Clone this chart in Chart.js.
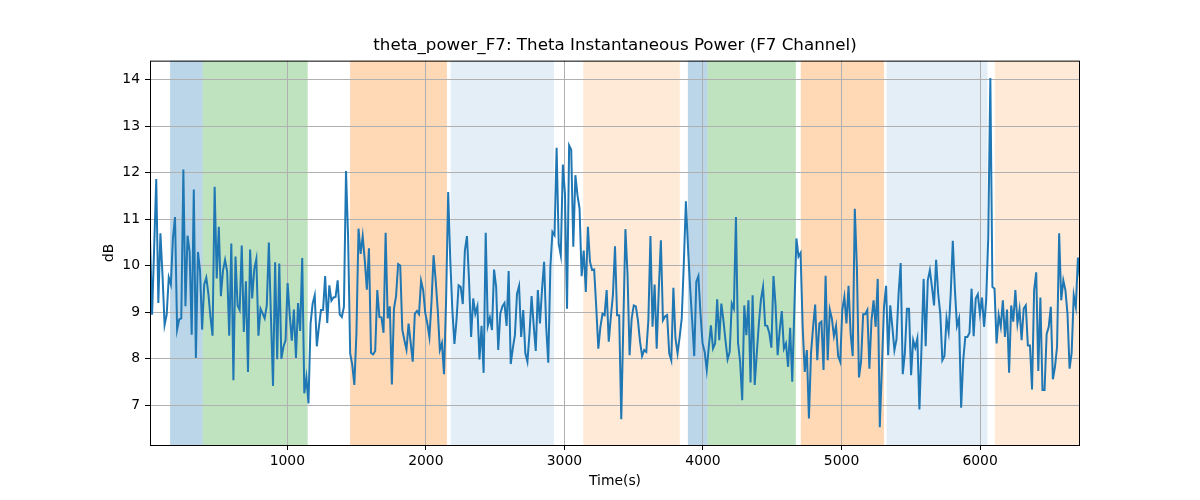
<!DOCTYPE html>
<html>
<head>
<meta charset="utf-8">
<script src="https://cdn.jsdelivr.net/npm/chart.js@4.4.0/dist/chart.umd.min.js"></script>
<style>
  html, body { margin: 0; padding: 0; background: #fff; }
  #wrap { width: 1200px; height: 500px; }
</style>
</head>
<body>
<div id="wrap"><canvas id="thetaChart" width="1200" height="500"></canvas></div>
<script>
// sampling range of the recording (seconds)
const T_START = 9;
const T_END = 6721;

const thetaPower = [
  10.6, 8.95, 10.4, 11.87, 9.2, 10.7, 9.8, 8.73, 8.95, 9.75, 9.6, 10.6, 11.05, 8.63, 8.85, 8.87,
  12.07, 9.13, 10.65, 10.3, 8.52, 11.64, 8.02, 10.3, 9.9, 8.63, 9.6, 9.75, 9.4, 8.9, 8.5, 11.7,
  9.73, 10.84, 9.35, 9.9, 10.13, 9.88, 8.5, 10.48, 7.54, 10.2, 9.15, 9.05, 10.44, 8.58, 9.67, 7.72,
  10.35, 9.3, 9.93, 10.15, 8.5, 9.08, 8.98, 8.87, 9.15, 10.5, 8.9, 7.42, 10.08, 7.99, 10.05, 8.0,
  8.26, 8.4, 9.63, 8.95, 8.39, 9.06, 8.02, 9.2, 8.6, 10.17, 7.26, 7.6,
  7.04, 8.76, 9.19, 9.37, 8.27, 8.69, 9.05, 9.05, 9.78, 8.77, 9.58, 9.25, 9.32, 9.33, 9.69, 8.95,
  8.9, 9.12, 12.04, 10.62, 8.12, 7.87, 7.44, 8.55, 10.8, 10.26, 10.64, 10.12, 9.49, 10.38, 8.13, 8.1,
  8.17, 9.48, 8.9, 8.89, 8.56, 10.71, 8.87, 9.13, 7.45, 9.08, 9.35, 10.04, 10.01, 8.63, 8.4, 8.2,
  8.76, 8.35, 7.94, 8.97, 9.03, 8.96, 9.68, 9.48, 8.99, 8.76, 8.47, 9.22, 10.23, 9.69, 9.05, 8.19,
  8.34, 7.67, 9.26, 11.59, 10.12, 9.05, 8.32, 8.84, 9.58, 9.55, 9.18,
  10.33, 10.64, 9.69, 8.47, 9.3, 8.97, 9.13, 7.99, 8.71, 7.7, 10.71, 8.71, 8.89, 8.62, 9.92, 9.55,
  8.19, 8.97, 9.13, 9.2, 8.71, 9.89, 7.89, 8.23, 8.51, 9.4, 9.57, 8.47, 9.05, 8.12, 7.94, 8.55,
  9.35, 8.72, 8.17, 9.48, 8.76, 9.49, 10.09, 8.69, 7.92, 9.97, 10.73, 10.66, 12.54, 10.48, 10.23, 12.18,
  11.55, 9.08, 12.59, 12.5, 10.41, 11.95, 11.52, 11.23, 9.78, 10.33, 9.44, 10.84, 10.09, 9.91, 9.92, 9.12,
  8.22, 8.69, 8.97, 8.94, 9.48, 8.37, 8.9, 9.37, 10.42, 8.94, 8.94,
  6.7, 8.76, 10.79, 9.83, 8.08, 8.87, 9.15, 9.13, 8.83, 8.37, 8.06, 8.19, 8.15, 8.83, 10.64, 8.69,
  9.6, 8.22, 9.49, 10.55, 8.83, 8.91, 8.94, 8.12, 7.97, 9.53, 8.44, 8.12, 8.47, 8.87, 10.05, 11.39,
  10.41, 9.55, 8.83, 8.06, 9.66, 9.78, 8.97, 8.33, 8.15, 7.76, 8.27, 8.72, 8.22, 8.33, 9.28, 8.4,
  9.19, 8.83, 8.39, 7.99, 8.15, 9.19, 9.08, 11.05, 8.35, 7.94, 7.11, 9.15, 8.51, 9.26, 7.49, 9.37,
  7.44, 8.12, 8.76, 9.28, 9.55, 8.72, 8.71, 8.56, 8.24, 9.78,
  9.15, 8.08, 8.62, 9.03, 8.22, 8.33, 7.83, 8.67, 7.51, 9.05, 10.59, 10.2, 10.28, 8.69, 7.72, 8.19,
  6.72, 8.12, 8.69, 9.17, 7.97, 8.76, 8.8, 7.76, 9.79, 7.97, 9.06, 8.87, 8.49, 8.71, 8.06, 7.94,
  9.05, 9.33, 8.76, 9.57, 8.55, 8.06, 11.23, 9.97, 7.6, 7.94, 8.96, 8.96, 9.05, 7.79, 8.83, 9.26,
  8.69, 9.72, 6.53, 7.83, 9.12, 9.57, 8.08, 9.15, 8.69, 8.19, 8.42, 9.4, 10.06, 7.67, 8.12, 9.08,
  9.08, 7.65, 8.4, 8.24, 8.44, 6.91, 8.26, 9.72, 8.27, 9.69, 9.91,
  9.55, 9.15, 10.13, 9.4, 8.97, 7.97, 8.06, 8.87, 8.58, 9.4, 10.54, 9.49, 8.71, 8.87, 6.95, 7.97,
  8.47, 8.47, 8.56, 9.51, 8.49, 9.3, 9.39, 8.97, 9.32, 8.69, 9.26, 10.6, 14.04, 9.55, 9.51, 8.33,
  8.94, 8.69, 9.26, 8.47, 9.06, 7.7, 9.15, 8.8, 9.48, 8.76, 9.06, 8.4, 9.08, 9.15, 8.29, 8.29,
  7.34, 9.48, 9.86, 7.74, 9.32, 7.33, 7.33, 8.53, 8.69, 9.12, 7.56, 7.83, 8.26, 10.7, 9.26, 9.69,
  9.48, 8.97, 7.79, 8.13, 9.37, 9.12, 10.18, 9.72
];

// shaded epochs (seconds)
const spanStarts = [154, 390, 1453, 2179, 3136, 3891, 4033, 4706, 5325, 6106];
const spanEnds   = [390, 1147, 2152, 2924, 3833, 4033, 4670, 5307, 6053, 6721];
const spanKinds  = ['blue', 'green', 'orange', 'paleBlue', 'paleOrange',
                    'blue', 'green', 'orange', 'paleBlue', 'paleOrange'];

const xTicks = [1000, 2000, 3000, 4000, 5000, 6000];
const yTicks = [7, 8, 9, 10, 11, 12, 13, 14];

const spanColors = {
  blue: 'rgba(31, 119, 180, 0.3)',
  green: 'rgba(44, 160, 44, 0.3)',
  orange: 'rgba(255, 127, 14, 0.3)',
  paleBlue: 'rgba(31, 119, 180, 0.12)',
  paleOrange: 'rgba(255, 127, 14, 0.16)'
};

const step = (T_END - T_START) / (thetaPower.length - 1);
const points = thetaPower.map((v, i) => ({ x: T_START + i * step, y: v }));

const FONT = "'DejaVu Sans', sans-serif";

// axvspan-like background bands, drawn under the grid
const spanPlugin = {
  id: 'spans',
  beforeDraw(chart) {
    const { ctx, chartArea, scales } = chart;
    ctx.save();
    for (let i = 0; i < spanStarts.length; i++) {
      const x1 = scales.x.getPixelForValue(spanStarts[i]);
      const x2 = scales.x.getPixelForValue(spanEnds[i]);
      ctx.fillStyle = spanColors[spanKinds[i]];
      ctx.fillRect(x1, chartArea.top, x2 - x1, chartArea.bottom - chartArea.top);
    }
    ctx.restore();
  }
};

// black frame on all four sides
const framePlugin = {
  id: 'frame',
  afterDraw(chart) {
    const { ctx, chartArea } = chart;
    ctx.save();
    ctx.strokeStyle = '#000';
    ctx.lineWidth = 1;
    ctx.strokeRect(chartArea.left + 0.5, chartArea.top + 0.5,
      chartArea.right - chartArea.left - 1, chartArea.bottom - chartArea.top);
    ctx.restore();
  }
};

new Chart(document.getElementById('thetaChart'), {
  type: 'line',
  data: {
    datasets: [{
      label: 'theta_power_F7',
      data: points,
      borderColor: '#1f77b4',
      borderWidth: 2,
      pointRadius: 0,
      tension: 0,
      fill: false
    }]
  },
  options: {
    responsive: false,
    animation: false,
    layout: { padding: { left: 0, right: 120, top: 0, bottom: 0 } },
    plugins: {
      legend: { display: false },
      tooltip: { enabled: false },
      title: {
        display: true,
        fullSize: false,
        text: 'theta_power_F7: Theta Instantaneous Power (F7 Channel)',
        color: '#000',
        font: { family: FONT, size: 16.7, weight: 'normal' },
        padding: { top: 36, bottom: 4.6 }
      }
    },
    scales: {
      x: {
        type: 'linear',
        min: T_START,
        max: T_END,
        afterBuildTicks: s => { s.ticks = xTicks.map(v => ({ value: v })); },
        afterFit: s => { s.height = 55; },
        border: { display: false },
        grid: { color: '#b0b0b0', lineWidth: 1, tickColor: '#000', tickLength: 5 },
        ticks: {
          color: '#000',
          font: { family: FONT, size: 13.9 },
          padding: 3,
          maxRotation: 0,
          callback: v => String(v)
        },
        title: {
          display: true,
          text: 'Time(s)',
          color: '#000',
          font: { family: FONT, size: 13.9 },
          padding: { top: 0, bottom: 10.5 }
        }
      },
      y: {
        min: 6.148,
        max: 14.414,
        afterBuildTicks: s => { s.ticks = yTicks.map(v => ({ value: v })); },
        afterFit: s => { s.width = 150; },
        border: { display: false },
        grid: { color: '#b0b0b0', lineWidth: 1, tickColor: '#000', tickLength: 5 },
        ticks: {
          color: '#000',
          font: { family: FONT, size: 13.9 },
          padding: 5,
          callback: v => String(v)
        },
        title: {
          display: true,
          text: 'dB',
          color: '#000',
          font: { family: FONT, size: 13.9 },
          padding: { top: 101, bottom: 0 }
        }
      }
    }
  },
  plugins: [spanPlugin, framePlugin]
});
</script>
</body>
</html>
